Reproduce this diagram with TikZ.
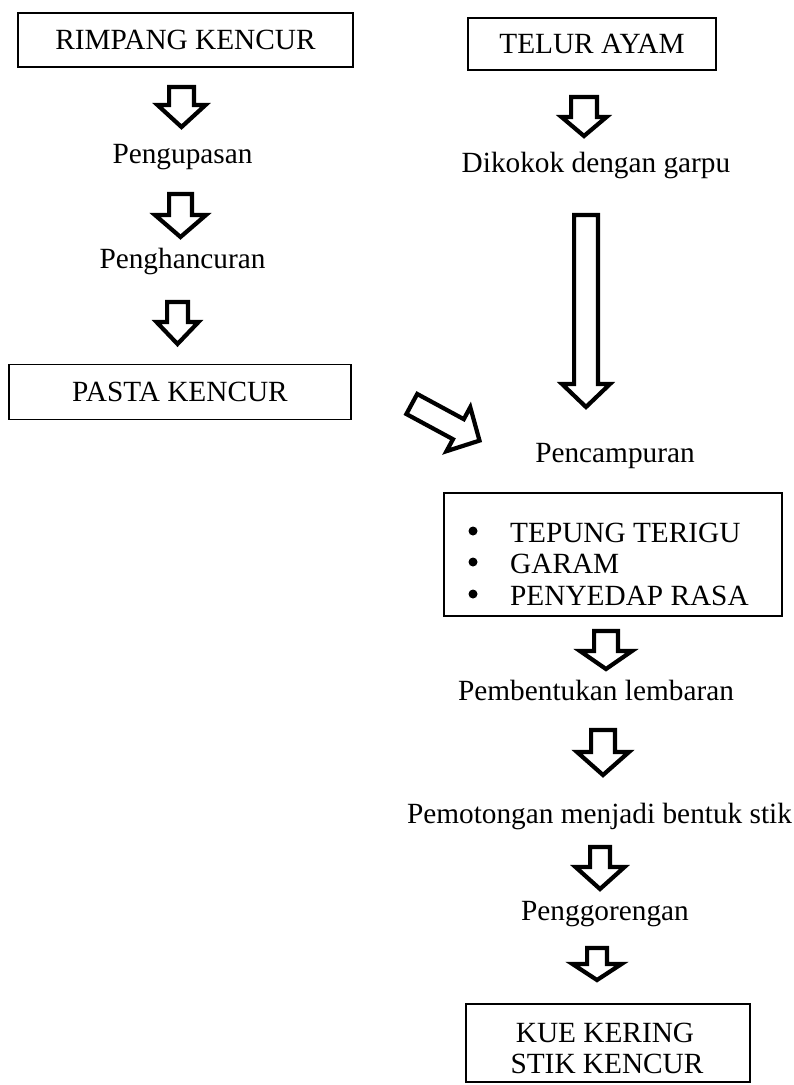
\documentclass[tikz,border=0pt]{standalone}
\usepackage{fontspec}
\setmainfont{Liberation Serif}
\usetikzlibrary{calc}
\newcommand\diagfont{\fontsize{29.3}{31.5}\selectfont}
\tikzset{
  box/.style={draw, line width=1.8pt, inner sep=0pt, font=\diagfont},
  lbl/.style={anchor=base, inner sep=0pt, font=\diagfont},
  dot/.style={circle, fill, inner sep=0pt, minimum size=9pt},
  barrow/.style={draw, line width=4.2pt, line join=miter, miter limit=10, fill=white}
}
% block arrow from #1 (tail) to #2 (tip); #3 shaft half width, #4 head half width, #5 head length
\newcommand\blockarr[5]{%
  \coordinate (bab) at ($(#2)!#5!(#1)$);
  \draw[barrow] ($(#1)!#3!90:(#2)$) -- ($(bab)!#3!90:(#2)$) -- ($(bab)!#4!90:(#2)$) -- (#2)
    -- ($(bab)!#4!-90:(#2)$) -- ($(bab)!#3!-90:(#2)$) -- ($(#1)!#3!-90:(#2)$) -- cycle;}
\begin{document}
\begin{tikzpicture}[x=1pt,y=-1pt]
\fill[white] (0,0) rectangle (794,1085);
\useasboundingbox (0,0) rectangle (794,1085);

% boxes
\node[box, minimum width=335pt, minimum height=54pt] (rimpang) at (185.5,40) {RIMPANG KENCUR};
\node[box, minimum width=248pt, minimum height=52pt] (telur) at (592,44) {TELUR AYAM};
\node[box, minimum width=342pt, minimum height=55pt] (pasta) at (180,392) {PASTA KENCUR};
\node[box, minimum width=338pt, minimum height=123pt] (ing) at (613,554.5) {};
\node[box, minimum width=284pt, minimum height=78pt] (kue) at (608,1043) {};

% labels
\node[lbl] (kupas) at (182.5,163) {Pengupasan};
\node[lbl] (hancur) at (182.5,268) {Penghancuran};
\node[lbl] (kocok) at (596,172) {Dikokok dengan garpu};
\node[lbl] (campur) at (615,462) {Pencampuran};
\node[lbl] (bentuk) at (596,700) {Pembentukan lembaran};
\node[lbl] (potong) at (599.5,823) {Pemotongan menjadi bentuk stik};
\node[lbl] (goreng) at (605,920) {Penggorengan};
\node[lbl] (kue1) at (605,1042) {KUE KERING};
\node[lbl] (kue2) at (607,1073) {STIK KENCUR};

% ingredient list
\node[dot] (b1) at (473,531) {};
\node[dot] (b2) at (473,562) {};
\node[dot] (b3) at (473,594) {};
\node[lbl, anchor=base west] (i1) at (510,542) {TEPUNG TERIGU};
\node[lbl, anchor=base west] (i2) at (510,573) {GARAM};
\node[lbl, anchor=base west] (i3) at (510,605) {PENYEDAP RASA};

% arrow end points
\coordinate (a1s) at (181.5,87);  \coordinate (a1e) at (181.5,127);
\coordinate (a2s) at (180.5,194); \coordinate (a2e) at (180.5,237);
\coordinate (a3s) at (177.5,302); \coordinate (a3e) at (177.5,344);
\coordinate (a4s) at (584,97);    \coordinate (a4e) at (584,136);
\coordinate (a5s) at (586,215);   \coordinate (a5e) at (586,407);
\coordinate (a6s) at (606,631);   \coordinate (a6e) at (606,669);
\coordinate (a7s) at (603,730);   \coordinate (a7e) at (603,775);
\coordinate (a8s) at (600,847);   \coordinate (a8e) at (600,889);
\coordinate (a9s) at (597,948);   \coordinate (a9e) at (597,980);
\coordinate (ads) at (411.8,404); \coordinate (ade) at (479.5,440.6);

\blockarr{a1s}{a1e}{12.4pt}{24pt}{22pt}
\blockarr{a2s}{a2e}{11.4pt}{25.5pt}{22pt}
\blockarr{a3s}{a3e}{10.4pt}{21pt}{22pt}
\blockarr{a4s}{a4e}{12.9pt}{22.5pt}{19pt}
\blockarr{a5s}{a5e}{11.9pt}{24pt}{23pt}
\blockarr{a6s}{a6e}{11.9pt}{26pt}{18pt}
\blockarr{a7s}{a7e}{11.9pt}{26pt}{23pt}
\blockarr{a8s}{a8e}{9.9pt}{24.5pt}{22pt}
\blockarr{a9s}{a9e}{9.9pt}{24.5pt}{16pt}
\blockarr{ads}{ade}{11.4pt}{25pt}{24pt}
\end{tikzpicture}
\end{document}
